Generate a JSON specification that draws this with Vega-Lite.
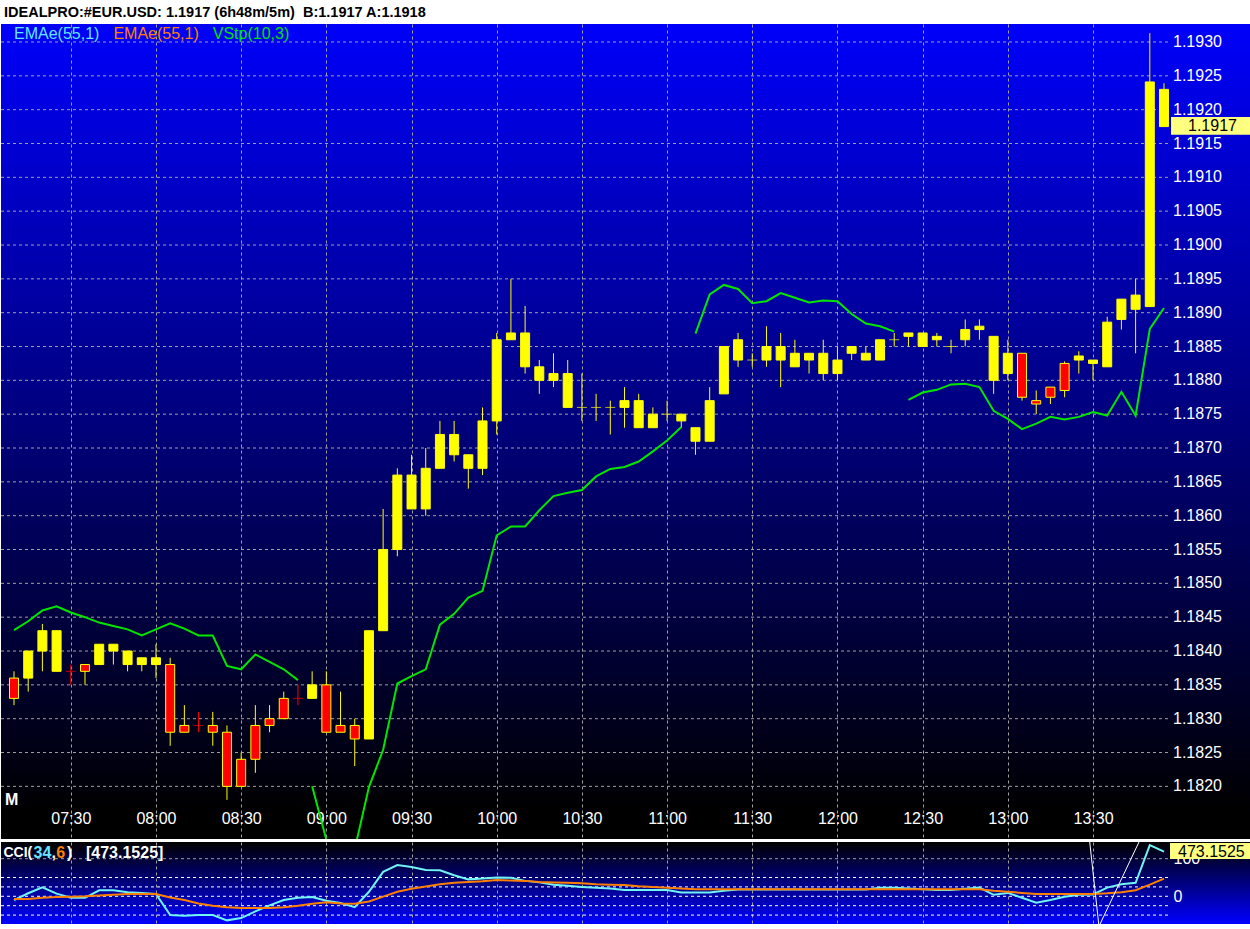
{
  "$schema": "https://vega.github.io/schema/vega-lite/v6.json",
  "background": "#ffffff",
  "padding": {"top": 4, "left": 0, "right": 0, "bottom": 0},
  "spacing": 3,
  "title": {
    "text": "IDEALPRO:#EUR.USD: 1.1917 (6h48m/5m)\u00a0 B:1.1917 A:1.1918",
    "anchor": "start",
    "frame": "group",
    "font": "Liberation Sans",
    "fontSize": 14.5,
    "fontWeight": "bold",
    "color": "#000000",
    "offset": 4,
    "dx": 3,
    "baseline": "top"
  },
  "config": {
    "font": "Liberation Sans",
    "view": {"stroke": null},
    "scale": {"continuousPadding": 0},
    "axis": {"domain": false, "ticks": false, "tickSize": 0, "title": null, "minExtent": 0, "labelFlush": false, "labelOverlap": false}
  },
  "datasets": {
    "priceLevels": [
      {"p": 1.182}, {"p": 1.1825}, {"p": 1.183}, {"p": 1.1835}, {"p": 1.184}, {"p": 1.1845}, {"p": 1.185}, {"p": 1.1855},
      {"p": 1.186}, {"p": 1.1865}, {"p": 1.187}, {"p": 1.1875}, {"p": 1.188}, {"p": 1.1885}, {"p": 1.189}, {"p": 1.1895},
      {"p": 1.19}, {"p": 1.1905}, {"p": 1.191}, {"p": 1.1915}, {"p": 1.192}, {"p": 1.1925}, {"p": 1.193}
    ],
    "bars": [
      {"t":430,"o":1.1836,"h":1.1837,"l":1.1832,"c":1.1833,"dir":"down"},
      {"t":435,"o":1.1836,"h":1.1840,"l":1.1834,"c":1.1840,"dir":"up"},
      {"t":440,"o":1.1840,"h":1.1844,"l":1.1837,"c":1.1843,"dir":"up"},
      {"t":445,"o":1.1837,"h":1.1843,"l":1.1837,"c":1.1843,"dir":"up"},
      {"t":450,"o":1.1837,"h":1.1838,"l":1.1835,"c":1.1837,"dir":"down"},
      {"t":455,"o":1.1838,"h":1.1838,"l":1.1835,"c":1.1837,"dir":"down"},
      {"t":460,"o":1.1838,"h":1.1841,"l":1.1838,"c":1.1841,"dir":"up"},
      {"t":465,"o":1.1840,"h":1.1841,"l":1.1838,"c":1.1841,"dir":"up"},
      {"t":470,"o":1.1838,"h":1.1840,"l":1.1837,"c":1.1840,"dir":"up"},
      {"t":475,"o":1.1838,"h":1.1839,"l":1.1837,"c":1.1839,"dir":"up"},
      {"t":480,"o":1.1838,"h":1.1841,"l":1.1836,"c":1.1839,"dir":"up"},
      {"t":485,"o":1.1838,"h":1.1839,"l":1.1826,"c":1.1828,"dir":"down"},
      {"t":490,"o":1.1829,"h":1.1832,"l":1.1828,"c":1.1828,"dir":"down"},
      {"t":495,"o":1.1829,"h":1.1831,"l":1.1828,"c":1.1829,"dir":"down"},
      {"t":500,"o":1.1829,"h":1.1831,"l":1.1826,"c":1.1828,"dir":"down"},
      {"t":505,"o":1.1828,"h":1.1829,"l":1.1818,"c":1.1820,"dir":"down"},
      {"t":510,"o":1.1824,"h":1.1825,"l":1.1820,"c":1.1820,"dir":"down"},
      {"t":515,"o":1.1829,"h":1.1832,"l":1.1822,"c":1.1824,"dir":"down"},
      {"t":520,"o":1.1830,"h":1.1832,"l":1.1828,"c":1.1829,"dir":"down"},
      {"t":525,"o":1.1833,"h":1.1834,"l":1.1830,"c":1.1830,"dir":"down"},
      {"t":530,"o":1.1833,"h":1.1835,"l":1.1832,"c":1.1833,"dir":"down"},
      {"t":535,"o":1.1833,"h":1.1837,"l":1.1833,"c":1.1835,"dir":"up"},
      {"t":540,"o":1.1835,"h":1.1837,"l":1.1828,"c":1.1828,"dir":"down"},
      {"t":545,"o":1.1829,"h":1.1834,"l":1.1828,"c":1.1828,"dir":"down"},
      {"t":550,"o":1.1829,"h":1.1830,"l":1.1823,"c":1.1827,"dir":"down"},
      {"t":555,"o":1.1827,"h":1.1843,"l":1.1827,"c":1.1843,"dir":"up"},
      {"t":560,"o":1.1843,"h":1.1861,"l":1.1843,"c":1.1855,"dir":"up"},
      {"t":565,"o":1.1855,"h":1.1867,"l":1.1854,"c":1.1866,"dir":"up"},
      {"t":570,"o":1.1861,"h":1.1869,"l":1.1861,"c":1.1866,"dir":"up"},
      {"t":575,"o":1.1861,"h":1.1870,"l":1.1860,"c":1.1867,"dir":"up"},
      {"t":580,"o":1.1867,"h":1.1874,"l":1.1867,"c":1.1872,"dir":"up"},
      {"t":585,"o":1.1869,"h":1.1874,"l":1.1868,"c":1.1872,"dir":"up"},
      {"t":590,"o":1.1867,"h":1.1869,"l":1.1864,"c":1.1869,"dir":"up"},
      {"t":595,"o":1.1867,"h":1.1876,"l":1.1866,"c":1.1874,"dir":"up"},
      {"t":600,"o":1.1874,"h":1.1887,"l":1.1872,"c":1.1886,"dir":"up"},
      {"t":605,"o":1.1886,"h":1.1895,"l":1.1886,"c":1.1887,"dir":"up"},
      {"t":610,"o":1.1882,"h":1.1891,"l":1.1881,"c":1.1887,"dir":"up"},
      {"t":615,"o":1.1880,"h":1.1883,"l":1.1878,"c":1.1882,"dir":"up"},
      {"t":620,"o":1.1880,"h":1.1884,"l":1.1879,"c":1.1881,"dir":"up"},
      {"t":625,"o":1.1876,"h":1.1883,"l":1.1876,"c":1.1881,"dir":"up"},
      {"t":630,"o":1.1876,"h":1.1881,"l":1.1874,"c":1.1876,"dir":"up"},
      {"t":635,"o":1.1876,"h":1.1878,"l":1.1874,"c":1.1876,"dir":"up"},
      {"t":640,"o":1.1876,"h":1.1877,"l":1.1872,"c":1.1876,"dir":"up"},
      {"t":645,"o":1.1876,"h":1.1879,"l":1.1873,"c":1.1877,"dir":"up"},
      {"t":650,"o":1.1873,"h":1.1878,"l":1.1873,"c":1.1877,"dir":"up"},
      {"t":655,"o":1.1873,"h":1.1876,"l":1.1873,"c":1.1875,"dir":"up"},
      {"t":660,"o":1.1875,"h":1.1877,"l":1.1874,"c":1.1875,"dir":"up"},
      {"t":665,"o":1.1874,"h":1.1875,"l":1.1873,"c":1.1875,"dir":"up"},
      {"t":670,"o":1.1871,"h":1.1873,"l":1.1869,"c":1.1873,"dir":"up"},
      {"t":675,"o":1.1871,"h":1.1879,"l":1.1871,"c":1.1877,"dir":"up"},
      {"t":680,"o":1.1878,"h":1.1885,"l":1.1878,"c":1.1885,"dir":"up"},
      {"t":685,"o":1.1883,"h":1.1887,"l":1.1882,"c":1.1886,"dir":"up"},
      {"t":690,"o":1.1883,"h":1.1884,"l":1.1882,"c":1.1883,"dir":"up"},
      {"t":695,"o":1.1883,"h":1.1888,"l":1.1882,"c":1.1885,"dir":"up"},
      {"t":700,"o":1.1883,"h":1.1887,"l":1.1879,"c":1.1885,"dir":"up"},
      {"t":705,"o":1.1882,"h":1.1886,"l":1.1882,"c":1.1884,"dir":"up"},
      {"t":710,"o":1.1883,"h":1.1884,"l":1.1881,"c":1.1884,"dir":"up"},
      {"t":715,"o":1.1881,"h":1.1886,"l":1.1880,"c":1.1884,"dir":"up"},
      {"t":720,"o":1.1881,"h":1.1885,"l":1.1880,"c":1.1883,"dir":"up"},
      {"t":725,"o":1.1884,"h":1.1885,"l":1.1883,"c":1.1885,"dir":"up"},
      {"t":730,"o":1.1883,"h":1.1885,"l":1.1883,"c":1.1884,"dir":"up"},
      {"t":735,"o":1.1883,"h":1.1886,"l":1.1883,"c":1.1886,"dir":"up"},
      {"t":740,"o":1.1886,"h":1.1887,"l":1.1885,"c":1.1886,"dir":"up"},
      {"t":745,"o":1.18865,"h":1.1887,"l":1.1885,"c":1.1887,"dir":"up"},
      {"t":750,"o":1.1885,"h":1.1887,"l":1.1885,"c":1.1887,"dir":"up"},
      {"t":755,"o":1.1886,"h":1.1887,"l":1.1885,"c":1.18865,"dir":"up"},
      {"t":760,"o":1.1885,"h":1.1886,"l":1.1884,"c":1.1885,"dir":"up"},
      {"t":765,"o":1.1886,"h":1.1889,"l":1.1885,"c":1.18875,"dir":"up"},
      {"t":770,"o":1.18875,"h":1.1889,"l":1.1886,"c":1.1888,"dir":"up"},
      {"t":775,"o":1.1880,"h":1.18865,"l":1.1878,"c":1.18865,"dir":"up"},
      {"t":780,"o":1.1881,"h":1.1886,"l":1.1880,"c":1.1884,"dir":"up"},
      {"t":785,"o":1.1884,"h":1.1884,"l":1.1877,"c":1.18775,"dir":"down"},
      {"t":790,"o":1.1877,"h":1.18785,"l":1.1875,"c":1.18765,"dir":"down"},
      {"t":795,"o":1.1879,"h":1.1879,"l":1.18765,"c":1.18775,"dir":"down"},
      {"t":800,"o":1.18825,"h":1.18828,"l":1.18775,"c":1.18785,"dir":"down"},
      {"t":805,"o":1.1883,"h":1.18843,"l":1.1881,"c":1.18836,"dir":"up"},
      {"t":810,"o":1.18825,"h":1.1883,"l":1.1880,"c":1.1883,"dir":"up"},
      {"t":815,"o":1.1882,"h":1.18894,"l":1.1882,"c":1.18886,"dir":"up"},
      {"t":820,"o":1.1889,"h":1.1892,"l":1.18875,"c":1.1892,"dir":"up"},
      {"t":825,"o":1.18905,"h":1.1895,"l":1.1884,"c":1.18926,"dir":"up"},
      {"t":830,"o":1.18909,"h":1.19313,"l":1.18909,"c":1.19241,"dir":"up"},
      {"t":835,"o":1.19175,"h":1.19239,"l":1.19175,"c":1.1923,"dir":"up"}
    ],
    "vstop": [
      {"t":430,"p":1.18431,"seg":"A"},{"t":435,"p":1.18444,"seg":"A"},{"t":440,"p":1.1846,"seg":"A"},{"t":445,"p":1.18466,"seg":"A"},
      {"t":450,"p":1.18457,"seg":"A"},{"t":455,"p":1.1845,"seg":"A"},{"t":460,"p":1.18442,"seg":"A"},{"t":465,"p":1.18437,"seg":"A"},
      {"t":470,"p":1.18432,"seg":"A"},{"t":475,"p":1.18423,"seg":"A"},{"t":480,"p":1.18432,"seg":"A"},{"t":485,"p":1.18441,"seg":"A"},
      {"t":490,"p":1.18433,"seg":"A"},{"t":495,"p":1.18423,"seg":"A"},{"t":500,"p":1.18423,"seg":"A"},{"t":505,"p":1.18378,"seg":"A"},
      {"t":510,"p":1.18373,"seg":"A"},{"t":515,"p":1.18395,"seg":"A"},{"t":520,"p":1.18384,"seg":"A"},{"t":525,"p":1.18373,"seg":"A"},
      {"t":530,"p":1.18357,"seg":"A"},
      {"t":535,"p":1.182,"seg":"B"},{"t":540,"p":1.18121,"seg":"B"},{"t":545,"p":1.1806,"seg":"B"},{"t":550,"p":1.18107,"seg":"B"},
      {"t":555,"p":1.18199,"seg":"B"},{"t":560,"p":1.18254,"seg":"B"},{"t":565,"p":1.18352,"seg":"B"},{"t":570,"p":1.18363,"seg":"B"},
      {"t":575,"p":1.18373,"seg":"B"},{"t":580,"p":1.18439,"seg":"B"},{"t":585,"p":1.18455,"seg":"B"},{"t":590,"p":1.18479,"seg":"B"},
      {"t":595,"p":1.18489,"seg":"B"},{"t":600,"p":1.18571,"seg":"B"},{"t":605,"p":1.18584,"seg":"B"},{"t":610,"p":1.18584,"seg":"B"},
      {"t":615,"p":1.18608,"seg":"B"},{"t":620,"p":1.18629,"seg":"B"},{"t":625,"p":1.18634,"seg":"B"},{"t":630,"p":1.18638,"seg":"B"},
      {"t":635,"p":1.18658,"seg":"B"},{"t":640,"p":1.18669,"seg":"B"},{"t":645,"p":1.18672,"seg":"B"},{"t":650,"p":1.1868,"seg":"B"},
      {"t":655,"p":1.18695,"seg":"B"},{"t":660,"p":1.18711,"seg":"B"},{"t":665,"p":1.18731,"seg":"B"},
      {"t":670,"p":1.18869,"seg":"C"},{"t":675,"p":1.18927,"seg":"C"},{"t":680,"p":1.18941,"seg":"C"},{"t":685,"p":1.18935,"seg":"C"},
      {"t":690,"p":1.18914,"seg":"C"},{"t":695,"p":1.18917,"seg":"C"},{"t":700,"p":1.18929,"seg":"C"},{"t":705,"p":1.18922,"seg":"C"},
      {"t":710,"p":1.18915,"seg":"C"},{"t":715,"p":1.18918,"seg":"C"},{"t":720,"p":1.18917,"seg":"C"},{"t":725,"p":1.18898,"seg":"C"},
      {"t":730,"p":1.18884,"seg":"C"},{"t":735,"p":1.1888,"seg":"C"},{"t":740,"p":1.18872,"seg":"C"},
      {"t":745,"p":1.18771,"seg":"D"},{"t":750,"p":1.18782,"seg":"D"},{"t":755,"p":1.18786,"seg":"D"},{"t":760,"p":1.18794,"seg":"D"},
      {"t":765,"p":1.18795,"seg":"D"},{"t":770,"p":1.1879,"seg":"D"},{"t":775,"p":1.18755,"seg":"D"},{"t":780,"p":1.18743,"seg":"D"},
      {"t":785,"p":1.18728,"seg":"D"},{"t":790,"p":1.18736,"seg":"D"},{"t":795,"p":1.18746,"seg":"D"},{"t":800,"p":1.18742,"seg":"D"},
      {"t":805,"p":1.18746,"seg":"D"},{"t":810,"p":1.18753,"seg":"D"},{"t":815,"p":1.18748,"seg":"D"},{"t":820,"p":1.18783,"seg":"D"},
      {"t":825,"p":1.18748,"seg":"D"},{"t":830,"p":1.18876,"seg":"D"},{"t":835,"p":1.18907,"seg":"D"}
    ],
    "cci": [
      {"t":430,"cci":-10,"sig":-7},{"t":435,"cci":8,"sig":-7},{"t":440,"cci":24,"sig":-4},{"t":445,"cci":7,"sig":-2},
      {"t":450,"cci":-4,"sig":-1},{"t":455,"cci":-4,"sig":0},{"t":460,"cci":16,"sig":2},{"t":465,"cci":16,"sig":4},
      {"t":470,"cci":11,"sig":6},{"t":475,"cci":9,"sig":6},{"t":480,"cci":6,"sig":6},{"t":485,"cci":-50,"sig":-3},
      {"t":490,"cci":-52,"sig":-10},{"t":495,"cci":-50,"sig":-19},{"t":500,"cci":-50,"sig":-25},{"t":505,"cci":-64,"sig":-29},
      {"t":510,"cci":-58,"sig":-31},{"t":515,"cci":-40,"sig":-31},{"t":520,"cci":-24,"sig":-31},{"t":525,"cci":-10,"sig":-29},
      {"t":530,"cci":-4,"sig":-25},{"t":535,"cci":-2,"sig":-20},{"t":540,"cci":-12,"sig":-16},{"t":545,"cci":-18,"sig":-19},
      {"t":550,"cci":-29,"sig":-20},{"t":555,"cci":12,"sig":-14},{"t":560,"cci":65,"sig":-1},{"t":565,"cci":83,"sig":12},
      {"t":570,"cci":78,"sig":20},{"t":575,"cci":70,"sig":26},{"t":580,"cci":69,"sig":32},{"t":585,"cci":56,"sig":36},
      {"t":590,"cci":45,"sig":38},{"t":595,"cci":47,"sig":40},{"t":600,"cci":50,"sig":43},{"t":605,"cci":49,"sig":42},
      {"t":610,"cci":41,"sig":41},{"t":615,"cci":37,"sig":38},{"t":620,"cci":31,"sig":37},{"t":625,"cci":28,"sig":36},
      {"t":630,"cci":25,"sig":35},{"t":635,"cci":23,"sig":32},{"t":640,"cci":21,"sig":31},{"t":645,"cci":17,"sig":30},
      {"t":650,"cci":17,"sig":27},{"t":655,"cci":17,"sig":25},{"t":660,"cci":17,"sig":23},{"t":665,"cci":10,"sig":21},
      {"t":670,"cci":10,"sig":19},{"t":675,"cci":10,"sig":19},{"t":680,"cci":15,"sig":19},{"t":685,"cci":18,"sig":19},
      {"t":690,"cci":18,"sig":19},{"t":695,"cci":18,"sig":19},{"t":700,"cci":18,"sig":19},{"t":705,"cci":18,"sig":19},
      {"t":710,"cci":18,"sig":19},{"t":715,"cci":18,"sig":19},{"t":720,"cci":18,"sig":19},{"t":725,"cci":18,"sig":19},
      {"t":730,"cci":18,"sig":19},{"t":735,"cci":23,"sig":19},{"t":740,"cci":23,"sig":19},{"t":745,"cci":21,"sig":19},
      {"t":750,"cci":19,"sig":19},{"t":755,"cci":17,"sig":19},{"t":760,"cci":17,"sig":19},{"t":765,"cci":20,"sig":19},
      {"t":770,"cci":23,"sig":19},{"t":775,"cci":4,"sig":15},{"t":780,"cci":9,"sig":12},{"t":785,"cci":-4,"sig":9},
      {"t":790,"cci":-17,"sig":6},{"t":795,"cci":-10,"sig":6},{"t":800,"cci":-1,"sig":6},{"t":805,"cci":4,"sig":6},
      {"t":810,"cci":5,"sig":6},{"t":815,"cci":23,"sig":8},{"t":820,"cci":32,"sig":11},{"t":825,"cci":36,"sig":16},
      {"t":830,"cci":136,"sig":31},{"t":835,"cci":119,"sig":47}
    ],
    "trend": [
      {"t":808.76,"v":150},{"t":812.1,"v":-80},{"t":826.55,"v":150}
    ],
    "cciLevels": [{"v":-50},{"v":-25},{"v":0},{"v":25},{"v":50}]
  },
  "vconcat": [
    {
      "width": 1250,
      "height": 815,
      "view": {
        "stroke": null,
        "fill": {"gradient": "linear", "x1": 0, "y1": 0, "x2": 0, "y2": 1,
          "stops": [{"offset": 0, "color": "#0000fa"}, {"offset": 0.97, "color": "#000000"}, {"offset": 1, "color": "#000000"}]}
      },
      "layer": [
        {
          "data": {"name": "priceLevels"},
          "mark": {"type": "rule", "color": "#a0a0a0", "strokeDash": [3, 3], "strokeWidth": 1},
          "encoding": {
            "y": {"field": "p", "type": "quantitative",
              "scale": {"domain": [1.181222, 1.193266], "nice": false, "zero": false, "padding": 0},
              "axis": {"orient": "right", "labels": false, "grid": false}},
            "x": {"datum": 425.42, "type": "quantitative", "scale": {"domain": [425.42, 865.64], "nice": false, "zero": false, "padding": 0}},
            "x2": {"datum": 836.76}
          }
        },
        {
          "data": {"name": "priceLevels"},
          "mark": {"type": "text", "color": "#ffffff", "fontSize": 16, "align": "left", "baseline": "middle"},
          "encoding": {
            "y": {"field": "p", "type": "quantitative"},
            "x": {"datum": 838.17},
            "text": {"field": "p", "type": "quantitative", "format": ".4f"}
          }
        },
        {
          "data": {"name": "bars"},
          "mark": {"type": "rule", "strokeWidth": 1},
          "encoding": {
            "x": {"field": "t", "type": "quantitative", "scale": {"domain": [425.42, 865.64], "nice": false, "zero": false, "padding": 0},
              "axis": {"orient": "bottom", "values": [450,480,510,540,570,600,630,660,690,720,750,780,810],
                "labelExpr": "format(floor(datum.value/60),'02d') + ':' + format(datum.value % 60,'02d')",
                "labelColor": "#ffffff", "labelFontSize": 16, "labelBaseline": "alphabetic", "labelPadding": -16, "labelOverlap": false,
                "grid": true, "gridColor": "#a0a0a0", "gridDash": [3, 3], "gridWidth": 1}},
            "y": {"field": "l", "type": "quantitative"},
            "y2": {"field": "h"},
            "color": {"condition": {"test": "datum.o == datum.c && datum.dir == 'down'", "value": "#ff0000"}, "value": "#ffff00"}
          }
        },
        {
          "data": {"name": "bars"},
          "transform": [{"filter": "datum.o != datum.c"}],
          "mark": {"type": "bar", "width": 9, "stroke": "#ffff00", "strokeWidth": 1},
          "encoding": {
            "x": {"field": "t", "type": "quantitative"},
            "y": {"field": "o", "type": "quantitative"},
            "y2": {"field": "c"},
            "fill": {"field": "dir", "type": "nominal", "scale": {"domain": ["up", "down"], "range": ["#ffff00", "#ff0000"]}, "legend": null}
          }
        },
        {
          "data": {"name": "bars"},
          "transform": [{"filter": "datum.o == datum.c"}],
          "mark": {"type": "tick", "orient": "horizontal", "size": 10, "thickness": 1},
          "encoding": {
            "x": {"field": "t", "type": "quantitative"},
            "y": {"field": "o", "type": "quantitative"},
            "color": {"field": "dir", "type": "nominal", "scale": {"domain": ["up", "down"], "range": ["#ffff00", "#ff0000"]}, "legend": null}
          }
        },
        {
          "data": {"name": "vstop"},
          "mark": {"type": "line", "color": "#00e600", "strokeWidth": 2, "clip": true},
          "encoding": {
            "x": {"field": "t", "type": "quantitative"},
            "y": {"field": "p", "type": "quantitative"},
            "detail": {"field": "seg", "type": "nominal"}
          }
        },
        {
          "data": {"values": [{"label": "EMAe(55,1)"}]},
          "mark": {"type": "text", "color": "#66e6ff", "fontSize": 16, "align": "left", "baseline": "middle"},
          "encoding": {"x": {"datum": 430}, "y": {"datum": 1.19312}, "text": {"field": "label"}}
        },
        {
          "data": {"values": [{"label": "EMAe(55,1)"}]},
          "mark": {"type": "text", "color": "#ff8000", "fontSize": 16, "align": "left", "baseline": "middle"},
          "encoding": {"x": {"datum": 465}, "y": {"datum": 1.19312}, "text": {"field": "label"}}
        },
        {
          "data": {"values": [{"label": "VStp(10,3)"}]},
          "mark": {"type": "text", "color": "#00e000", "fontSize": 16, "align": "left", "baseline": "middle"},
          "encoding": {"x": {"datum": 500}, "y": {"datum": 1.19312}, "text": {"field": "label"}}
        },
        {
          "data": {"values": [{"label": "M"}]},
          "mark": {"type": "text", "color": "#ffffff", "fontSize": 16, "fontWeight": "bold", "align": "left", "baseline": "middle"},
          "encoding": {"x": {"datum": 426.8}, "y": {"datum": 1.1818}, "text": {"field": "label"}}
        },
        {
          "data": {"values": [{"label": "1.1917"}]},
          "mark": {"type": "rect", "color": "#ffff80"},
          "encoding": {"x": {"datum": 837.47}, "x2": {"datum": 865.64}, "y": {"datum": 1.19189}, "y2": {"datum": 1.19163}}
        },
        {
          "data": {"values": [{"label": "1.1917"}]},
          "mark": {"type": "text", "color": "#000000", "fontSize": 16, "align": "left", "baseline": "middle"},
          "encoding": {"x": {"datum": 843.45}, "y": {"datum": 1.19176}, "text": {"field": "label"}}
        }
      ]
    },
    {
      "width": 1250,
      "height": 82,
      "view": {
        "stroke": null,
        "fill": {"gradient": "linear", "x1": 0, "y1": 0, "x2": 0, "y2": 1,
          "stops": [{"offset": 0, "color": "#000000"}, {"offset": 1, "color": "#0000ff"}]}
      },
      "layer": [
        {
          "data": {"name": "cciLevels"},
          "mark": {"type": "rule", "color": "#ffffff", "strokeDash": [3, 3], "strokeWidth": 1},
          "encoding": {
            "y": {"field": "v", "type": "quantitative", "scale": {"domain": [-73.7, 144.4], "nice": false, "zero": false, "padding": 0},
              "axis": {"orient": "right", "offset": -78, "values": [0, 100], "labelColor": "#ffffff", "labelFontSize": 16,
                "labelPadding": 0, "labelAlign": "left", "labelBaseline": "middle", "labelOverlap": false, "grid": false}},
            "x": {"datum": 425.42, "type": "quantitative", "scale": {"domain": [425.42, 865.64], "nice": false, "zero": false, "padding": 0}},
            "x2": {"datum": 836.76}
          }
        },
        {
          "data": {"values": [{"v": 100}]},
          "mark": {"type": "rule", "color": "#a0a0a0", "strokeDash": [3, 3], "strokeWidth": 1},
          "encoding": {
            "y": {"field": "v", "type": "quantitative"},
            "x": {"datum": 425.42, "type": "quantitative"},
            "x2": {"datum": 836.76}
          }
        },
        {
          "data": {"name": "cci"},
          "mark": {"type": "line", "color": "#70f4f4", "strokeWidth": 2, "clip": true},
          "encoding": {
            "x": {"field": "t", "type": "quantitative",
              "axis": {"values": [450,480,510,540,570,600,630,660,690,720,750,780,810], "labels": false,
                "grid": true, "gridColor": "#a0a0a0", "gridDash": [3, 3], "gridWidth": 1}},
            "y": {"field": "cci", "type": "quantitative"}
          }
        },
        {
          "data": {"name": "cci"},
          "mark": {"type": "line", "color": "#ff8000", "strokeWidth": 2, "clip": true},
          "encoding": {
            "x": {"field": "t", "type": "quantitative"},
            "y": {"field": "sig", "type": "quantitative"}
          }
        },
        {
          "data": {"name": "trend"},
          "mark": {"type": "line", "color": "#ffffff", "strokeWidth": 1, "clip": true},
          "encoding": {
            "x": {"field": "t", "type": "quantitative"},
            "y": {"field": "v", "type": "quantitative"}
          }
        },
        {
          "data": {"values": [{"label": "CCI("}]},
          "mark": {"type": "text", "color": "#ffffff", "fontSize": 14, "fontWeight": "bold", "align": "left", "baseline": "middle"},
          "encoding": {"x": {"datum": 426.3}, "y": {"datum": 116}, "text": {"field": "label"}}
        },
        {
          "data": {"values": [{"label": "34"}]},
          "mark": {"type": "text", "color": "#66e6ff", "fontSize": 16, "fontWeight": "bold", "align": "left", "baseline": "middle"},
          "encoding": {"x": {"datum": 436.9}, "y": {"datum": 116}, "text": {"field": "label"}}
        },
        {
          "data": {"values": [{"label": ","}]},
          "mark": {"type": "text", "color": "#ffffff", "fontSize": 16, "fontWeight": "bold", "align": "left", "baseline": "middle"},
          "encoding": {"x": {"datum": 443.2}, "y": {"datum": 116}, "text": {"field": "label"}}
        },
        {
          "data": {"values": [{"label": "6"}]},
          "mark": {"type": "text", "color": "#ff8000", "fontSize": 16, "fontWeight": "bold", "align": "left", "baseline": "middle"},
          "encoding": {"x": {"datum": 444.9}, "y": {"datum": 116}, "text": {"field": "label"}}
        },
        {
          "data": {"values": [{"label": ")"}]},
          "mark": {"type": "text", "color": "#ffffff", "fontSize": 16, "fontWeight": "bold", "align": "left", "baseline": "middle"},
          "encoding": {"x": {"datum": 448.7}, "y": {"datum": 116}, "text": {"field": "label"}}
        },
        {
          "data": {"values": [{"label": "[473.1525]"}]},
          "mark": {"type": "text", "color": "#ffffff", "fontSize": 16, "fontWeight": "bold", "align": "left", "baseline": "middle"},
          "encoding": {"x": {"datum": 455.35}, "y": {"datum": 116}, "text": {"field": "label"}}
        },
        {
          "data": {"values": [{"label": "473.1525"}]},
          "mark": {"type": "rect", "color": "#ffff80"},
          "encoding": {"x": {"datum": 837.12}, "x2": {"datum": 865.64}, "y": {"datum": 141.8}, "y2": {"datum": 99.2}}
        },
        {
          "data": {"values": [{"label": "473.1525"}]},
          "mark": {"type": "text", "color": "#000000", "fontSize": 16, "align": "left", "baseline": "middle"},
          "encoding": {"x": {"datum": 839.93}, "y": {"datum": 119}, "text": {"field": "label"}}
        }
      ]
    }
  ]
}
